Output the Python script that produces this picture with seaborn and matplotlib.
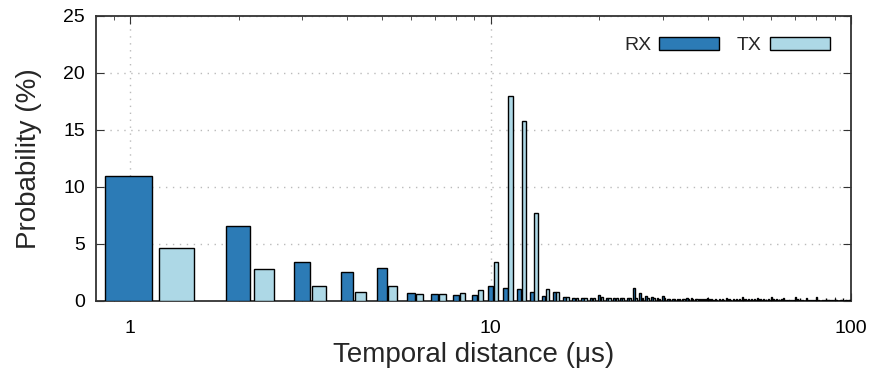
import numpy as np
import matplotlib
matplotlib.use("Agg")
import matplotlib.pyplot as plt
import seaborn as sns

# temporal distance (us), one bin per integer
distance = list(range(1, 101))

rx_prob = [11.0, 6.55, 3.45, 2.54, 2.92, 0.73, 0.64, 0.55, 0.55, 1.34,
           1.11, 1.02, 0.76, 0.44, 0.76, 0.32, 0.30, 0.30, 0.30, 0.55,
           0.30, 0.30, 0.30, 0.30, 1.10, 0.67, 0.47, 0.32, 0.30, 0.40,
           0.20, 0.20, 0.18, 0.18, 0.25, 0.30, 0.18, 0.16, 0.18, 0.30,
           0.15, 0.15, 0.15, 0.15, 0.30, 0.20, 0.15, 0.15, 0.15, 0.35,
           0.15, 0.15, 0.15, 0.15, 0.30, 0.13, 0.13, 0.13, 0.13, 0.35,
           0.13, 0.13, 0.13, 0.13, 0.30, 0.12, 0.12, 0.12, 0.12, 0.35,
           0.15, 0.25, 0.12, 0.12, 0.25, 0.12, 0.12, 0.12, 0.12, 0.35,
           0.12, 0.12, 0.12, 0.12, 0.25, 0.12, 0.12, 0.12, 0.12, 0.30,
           0.12, 0.12, 0.12, 0.12, 0.25, 0.12, 0.12, 0.12, 0.12, 0.15]

tx_prob = [4.62, 2.80, 1.35, 0.79, 1.34, 0.59, 0.64, 0.73, 0.96, 3.40,
           18.0, 15.8, 7.70, 1.05, 0.82, 0.32, 0.30, 0.30, 0.28, 0.35,
           0.28, 0.25, 0.25, 0.25, 0.30, 0.30, 0.25, 0.22, 0.20, 0.22,
           0.15, 0.15, 0.14, 0.14, 0.15, 0.15, 0.13, 0.13, 0.13, 0.15,
           0.12, 0.12, 0.12, 0.12, 0.14, 0.12, 0.12, 0.11, 0.11, 0.14,
           0.11, 0.11, 0.11, 0.11, 0.13, 0.10, 0.10, 0.10, 0.10, 0.13,
           0.10, 0.10, 0.10, 0.10, 0.12, 0.10, 0.10, 0.10, 0.10, 0.12,
           0.10, 0.11, 0.10, 0.10, 0.11, 0.10, 0.10, 0.10, 0.10, 0.12,
           0.10, 0.10, 0.10, 0.10, 0.11, 0.10, 0.10, 0.10, 0.10, 0.12,
           0.10, 0.10, 0.10, 0.10, 0.11, 0.10, 0.10, 0.10, 0.10, 0.10]

sns.set_style("ticks")
plt.rcParams["font.family"] = ["Liberation Sans", "DejaVu Sans"]

fig = plt.figure(figsize=(8.74, 3.72), dpi=100)
ax = fig.add_axes([0.110, 0.191, 0.864, 0.766])

x = np.array(distance, dtype=float)
ax.bar(x, rx_prob, width=0.3, align="center", color="#2c7bb6",
       edgecolor="black", linewidth=1.0, label="RX", zorder=3)
ax.bar(x + 0.35, tx_prob, width=0.3, align="center", color="#add8e6",
       edgecolor="black", linewidth=1.0, label="TX", zorder=3)

ax.set_xscale("log")
ax.set_xlim(0.805, 100)
ax.set_ylim(0, 25)
ax.set_yticks([0, 5, 10, 15, 20, 25])
ax.set_xticks([1, 10, 100])
ax.set_xticklabels(["1", "10", "100"])

ax.grid(True, which="major", linestyle=(0, (1, 4)), color="#bbbbbb", linewidth=1, zorder=0)
ax.tick_params(axis="both", which="both", direction="in", top=True, right=True,
               labelsize=14, colors="#333333", labelcolor="black")
ax.tick_params(which="major", length=6)
ax.tick_params(which="minor", length=3)
ax.tick_params(axis="x", pad=14)
ax.tick_params(axis="y", pad=8)
for s in ax.spines.values():
    s.set_color("#333333")
    s.set_linewidth(1.3)

ax.set_xlabel("Temporal distance (μs)", fontsize=20, labelpad=3)
ax.set_ylabel("Probability (%)", fontsize=20, labelpad=15)

ax.legend(loc="upper right", ncol=2, markerfirst=False, frameon=False,
          fontsize=14, handlelength=3.1, handleheight=0.6, columnspacing=0.9,
          handletextpad=0.4, borderaxespad=0.7)

fig.savefig("out.png", dpi=100)
